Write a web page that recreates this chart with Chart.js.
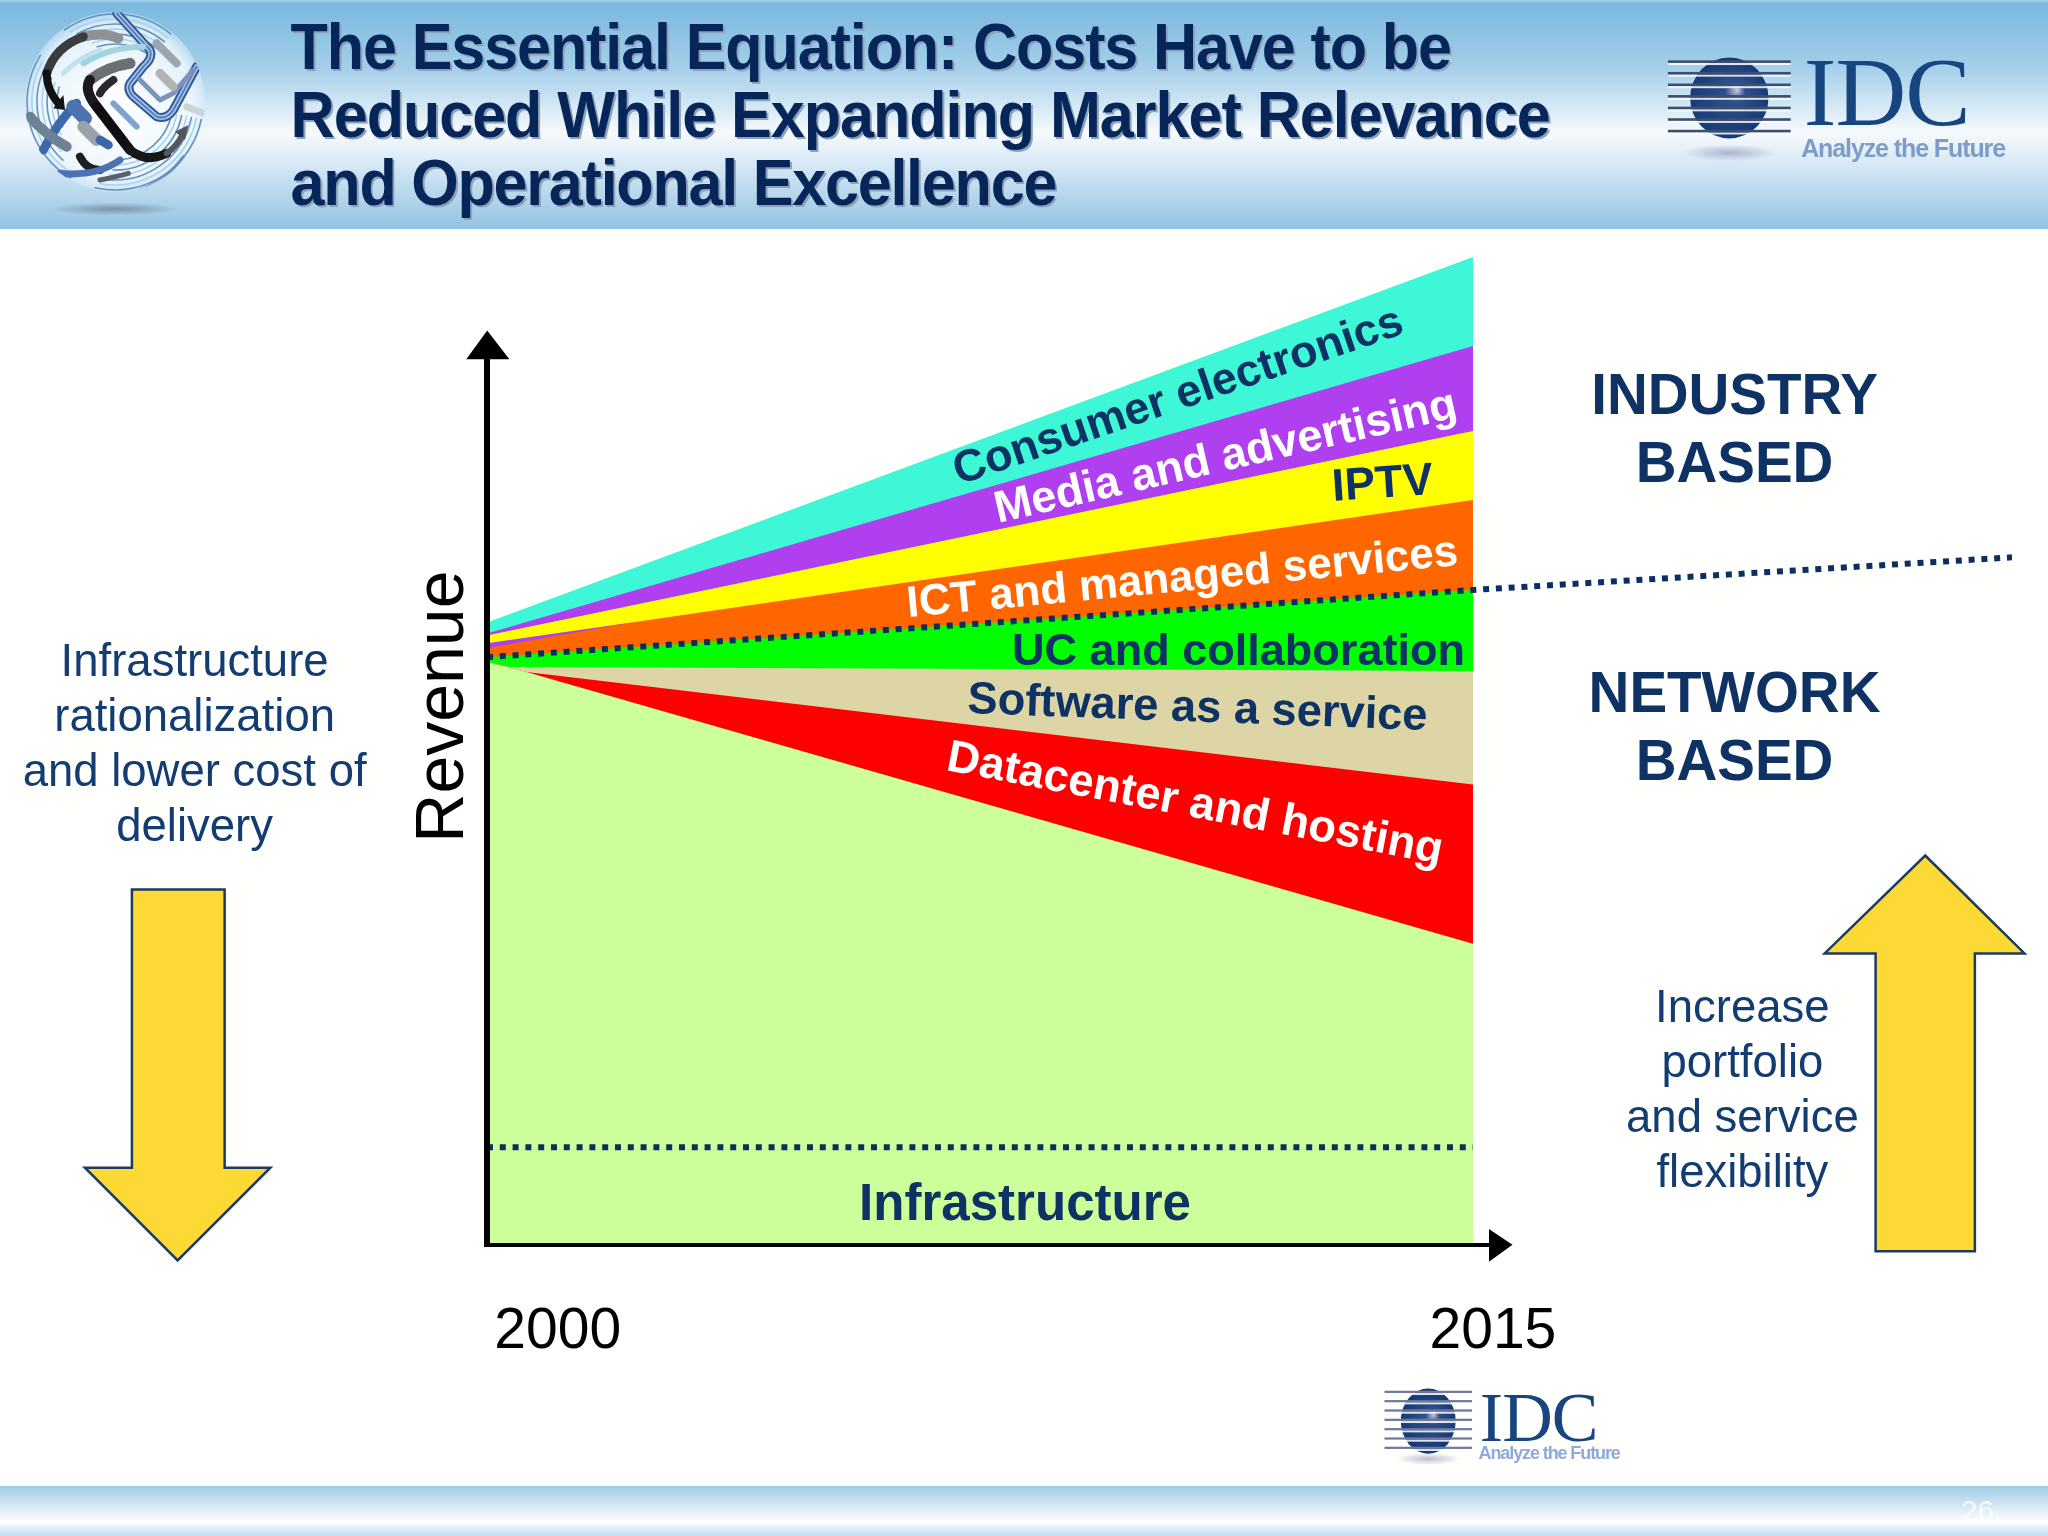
<!DOCTYPE html>
<html>
<head>
<meta charset="utf-8">
<style>html,body{margin:0;padding:0;background:#fffffd}canvas{display:block}</style>
<script src="https://cdn.jsdelivr.net/npm/chart.js@4/dist/chart.umd.min.js"></script>
</head>
<body>
<canvas id="c" width="2048" height="1536" style="width:2048px;height:1536px"></canvas>
<script>
// ---- data ----
const tickLabels = ['2000', '2015'];
const endYears = [2000, 2015];
const wedgeYears = [2000, 2000.6, 2015];
const tanYears = [2000, 2000.35, 2015];
const orangeYears = [2000, 2002.2, 2015];
const sliverYears = [2000, 2002.2];
const dividerYears = [2000, 2015, 2023.2];

const consumerElectronics = [63.0, 100];
const mediaAdvertising = [61.9, 91.0];
const iptv = [61.7, 82.4];
const sliver = [60.9, 63.0];
const ictManaged = [60.4, 63.0, 75.4];
const ucCollab = [59.5, 66.3];
const softwareService = [59.0, 58.5, 58.1];
const datacenterHosting = [59.0, 58.0, 46.6];
const infrastructure = [59.0, 58.0, 30.5];
const industryDivider = [59.5, 66.3, 69.6];
const infraDivider = [9.9, 9.9];

const pts = (xs, ys) => xs.map((x, i) => ({x, y: ys[i]}));
const D = 2048 / 1568;
const NAVY = '#0d3263';
const SANS = '"Liberation Sans", Arial, sans-serif';
const SERIF = '"Liberation Serif", "Times New Roman", serif';

function text(ctx, s, x, y, font, color, o) {
  o = o || {};
  ctx.save();
  ctx.translate(x * D, y * D);
  if (o.rot) ctx.rotate(o.rot * Math.PI / 180);
  if (o.sx) ctx.scale(o.sx, 1);
  ctx.font = font;
  ctx.fillStyle = color;
  ctx.textAlign = o.align || 'center';
  ctx.textBaseline = o.base || 'middle';
  if (o.ls) ctx.letterSpacing = o.ls;
  if (o.alpha) ctx.globalAlpha = o.alpha;
  ctx.fillText(s, 0, 0);
  ctx.restore();
}
// a label whose baseline runs from (x0,y0) to (x1,y1), in page pixels
function band(ctx, s, x0, y0, x1, y1, color) {
  const len = Math.hypot(x1 - x0, y1 - y0);
  ctx.save();
  ctx.font = 'bold 100px ' + SANS;
  const size = 100 * len / ctx.measureText(s).width;
  ctx.translate((x0 + x1) / 2, (y0 + y1) / 2);
  ctx.rotate(Math.atan2(y1 - y0, x1 - x0));
  ctx.font = 'bold ' + size.toFixed(2) + 'px ' + SANS;
  ctx.fillStyle = color;
  ctx.textAlign = 'center';
  ctx.textBaseline = 'alphabetic';
  ctx.fillText(s, 0, 0);
  ctx.restore();
}
function poly(ctx, p, fill, stroke, lw) {
  ctx.beginPath();
  p.forEach((q, i) => i ? ctx.lineTo(q[0] * D, q[1] * D) : ctx.moveTo(q[0] * D, q[1] * D));
  ctx.closePath();
  if (fill) { ctx.fillStyle = fill; ctx.fill(); }
  if (stroke) { ctx.strokeStyle = stroke; ctx.lineWidth = lw; ctx.stroke(); }
}
function idcLogo(ctx, x0, x1, cy, rx, ry, textX, textBase, idcSize, tagX, tagBase, tagSize, tagColor, lineColor, lineW, shadowY) {
  const cx = (x0 + x1) / 2;
  ctx.save();
  const sg = ctx.createRadialGradient(cx * D, 0, 0, cx * D, 0, rx * D * 1.2);
  ctx.translate(0, shadowY * D);
  ctx.scale(1, 0.18);
  sg.addColorStop(0, 'rgba(130,130,170,0.55)');
  sg.addColorStop(1, 'rgba(130,130,170,0)');
  ctx.fillStyle = sg;
  ctx.beginPath(); ctx.arc(cx * D, 0, rx * D * 1.2, 0, Math.PI * 2); ctx.fill();
  ctx.restore();
  ctx.save();
  ctx.beginPath(); ctx.ellipse(cx * D, cy * D, rx * D, ry * D, 0, 0, Math.PI * 2);
  const g = ctx.createRadialGradient((cx + rx * 0.2) * D, (cy - ry * 0.2) * D, 0, cx * D, cy * D, rx * D);
  g.addColorStop(0, '#c9c8df'); g.addColorStop(0.25, '#2f4f8c'); g.addColorStop(1, '#163a78');
  ctx.fillStyle = g; ctx.fill();
  ctx.restore();
  const n = 7;
  for (let i = 0; i < n; i++) {
    const y = (cy - ry + ry * 2 * (i + 0.25) / n);
    ctx.fillStyle = 'rgba(255,255,255,0.85)';
    ctx.fillRect(x0 * D, (y + lineW) * D, (x1 - x0) * D, 1.6 * D);
    ctx.fillStyle = lineColor;
    ctx.fillRect(x0 * D, y * D, (x1 - x0) * D, lineW * D);
  }
  text(ctx, 'IDC', textX, textBase, idcSize + 'px ' + SERIF, '#174580', {align: 'left', base: 'alphabetic', ls: '-1px'});
  text(ctx, 'Analyze the Future', tagX, tagBase, 'bold ' + tagSize + 'px ' + SANS, tagColor, {align: 'left', base: 'alphabetic', ls: '-1.1px'});
}
function route(ctx, p, color, w) {
  ctx.strokeStyle = color; ctx.lineWidth = w;
  ctx.beginPath();
  p.forEach((q, i) => {
    if (!i) ctx.moveTo(q[0] / 3, q[1] / 3);
    else if (q.length === 4) ctx.quadraticCurveTo(q[0] / 3, q[1] / 3, q[2] / 3, q[3] / 3);
    else ctx.lineTo(q[0] / 3, q[1] / 3);
  });
  ctx.stroke();
}
function globe(ctx) {
  ctx.save();
  const cx = 115, cy = 102, r = 90;
  ctx.beginPath(); ctx.arc(cx, cy, r, 0, Math.PI * 2);
  const g = ctx.createRadialGradient(cx, cy, 10, cx, cy, r);
  g.addColorStop(0, 'rgba(255,255,255,0.95)'); g.addColorStop(0.85, 'rgba(240,248,253,0.85)'); g.addColorStop(1, 'rgba(220,238,250,0.5)');
  ctx.fillStyle = g; ctx.fill(); ctx.clip();
  ctx.lineCap = 'round'; ctx.lineJoin = 'round';
  for (let i = 0; i < 7; i++) {
    ctx.strokeStyle = i % 2 ? '#a8d3e8' : '#5f93c4'; ctx.lineWidth = 1.6;
    ctx.beginPath(); ctx.arc(cx, cy, r - 2 - i * 5, 2.1 + i * 0.1, 3.7 - i * 0.05); ctx.stroke();
    ctx.beginPath(); ctx.arc(cx, cy, r - 2 - i * 5, 4.1 + i * 0.05, 5.4); ctx.stroke();
    ctx.beginPath(); ctx.arc(cx, cy, r - 2 - i * 5, 0.2, 1.8 - i * 0.05); ctx.stroke();
  }
  const blue = [[350, 40], [450, 150], [460, 175, 430, 200], [390, 250], [380, 270, 400, 290], [470, 350], [500, 360, 520, 330], [590, 200]];
  route(ctx, blue, '#31579a', 9); route(ctx, blue, '#a9c6e6', 5); route(ctx, blue, '#4f79b5', 1.8);
  route(ctx, [[420, 240], [480, 300], [520, 280], [580, 210]], '#7a94bd', 5);
  route(ctx, [[470, 130], [530, 190]], '#9aa7b2', 8);
  route(ctx, [[480, 220], [520, 260]], '#b0b4b4', 9);
  route(ctx, [[560, 320], [610, 340]], '#c8d6dc', 7);
  route(ctx, [[250, 190], [330, 140, 430, 140]], '#a4d3e0', 6);
  route(ctx, [[190, 220], [240, 170, 300, 150]], '#bfe2ec', 5);
  route(ctx, [[355, 115], [310, 95, 250, 110]], '#8d9296', 10);
  route(ctx, [[250, 110], [165, 140, 140, 220]], '#3b3b40', 9);
  route(ctx, [[140, 220], [140, 270, 175, 310]], '#121214', 8);
  poly(ctx, [[160 / 3 / D, 325 / 3 / D], [190 / 3 / D, 285 / 3 / D], [195 / 3 / D, 330 / 3 / D]], '#121214');
  route(ctx, [[390, 190], [320, 200, 270, 240]], '#6c7074', 11);
  route(ctx, [[270, 240], [250, 270, 290, 320]], '#1a1a1e', 10);
  route(ctx, [[290, 320], [390, 450]], '#0f0f12', 10);
  route(ctx, [[390, 450], [440, 490, 500, 460]], '#17171a', 9);
  route(ctx, [[500, 460], [530, 440, 550, 400]], '#53575c', 6);
  poly(ctx, [[525 / 3 / D, 395 / 3 / D], [565 / 3 / D, 375 / 3 / D], [555 / 3 / D, 420 / 3 / D]], '#53575c');
  route(ctx, [[340, 240], [310, 260, 300, 280]], '#2a2a2e', 8);
  route(ctx, [[230, 310], [170, 370, 130, 450]], '#3f68ab', 9);
  route(ctx, [[220, 320], [255, 355]], '#4d74b2', 14);
  route(ctx, [[250, 380], [290, 420]], '#9aa2aa', 12);
  route(ctx, [[90, 350], [130, 400, 200, 440]], '#6f8194', 10);
  route(ctx, [[300, 420], [325, 435]], '#3d66a8', 9);
  route(ctx, [[340, 310], [410, 380]], '#7fa3cf', 6);
  route(ctx, [[240, 470], [260, 510, 300, 510]], '#1d1d22', 8);
  route(ctx, [[180, 520], [290, 530, 360, 480]], '#4a72b4', 7);
  route(ctx, [[300, 540], [350, 530, 385, 520]], '#5d5f66', 5);
  route(ctx, [[420, 570], [500, 540, 550, 470]], '#6a90bd', 3);
  ctx.restore();
  ctx.save();
  ctx.translate(0, 209); ctx.scale(1, 0.1);
  const sg = ctx.createRadialGradient(115, 0, 0, 115, 0, 65);
  sg.addColorStop(0, 'rgba(90,105,125,0.6)'); sg.addColorStop(1, 'rgba(90,105,125,0)');
  ctx.fillStyle = sg; ctx.beginPath(); ctx.arc(115, 0, 65, 0, Math.PI * 2); ctx.fill();
  ctx.restore();
}

const backdrop = {
  id: 'backdrop',
  beforeDraw(chart) {
    const ctx = chart.ctx;
    ctx.save();
    ctx.fillStyle = '#fffffd';
    ctx.fillRect(0, 0, 2048, 1536);
    let g = ctx.createLinearGradient(0, 0, 0, 229);
    g.addColorStop(0, '#a9d6f2'); g.addColorStop(0.015, '#7ab8de'); g.addColorStop(0.3, '#a5cfea');
    g.addColorStop(0.58, '#f6fafd'); g.addColorStop(0.72, '#d6e8f5'); g.addColorStop(1, '#93c3e3');
    ctx.fillStyle = g; ctx.fillRect(0, 0, 2048, 229);
    g = ctx.createLinearGradient(0, 1486, 0, 1536);
    g.addColorStop(0, '#9fcbe6'); g.addColorStop(0.45, '#dbebf6'); g.addColorStop(0.72, '#ffffff'); g.addColorStop(1, '#bcdcf3');
    ctx.fillStyle = g; ctx.fillRect(0, 1486, 2048, 50);
    ctx.restore();
  }
};

const overlay = {
  id: 'overlay',
  afterDatasetsDraw(chart) {
    const ctx = chart.ctx;
    const xs = chart.scales.x, ys = chart.scales.y;
    const ax = xs.getPixelForValue(2000), ay = ys.getPixelForValue(0);
    globe(ctx);
    [['The Essential Equation: Costs Have to be', '-1.2px'],
     ['Reduced While Expanding Market Relevance', '-1.1px'],
     ['and Operational Excellence', '-1.33px']].forEach((l, i) => {
      const y = 53 + i * 52;
      text(ctx, l[0], 224, y + 1.2, 'bold 65px ' + SANS, '#8ea3ba', {align: 'left', base: 'alphabetic', sx: 0.94, ls: l[1]});
      text(ctx, l[0], 222.5, y, 'bold 65px ' + SANS, '#06265a', {align: 'left', base: 'alphabetic', sx: 0.94, ls: l[1]});
    });
    idcLogo(ctx, 1277, 1371, 75, 30, 31, 1381, 96, 98, 1379, 120, 25, '#7d9cc7', '#3d4f6e', 2, 117);
    idcLogo(ctx, 1060, 1127, 1088, 21, 25, 1133, 1103, 70, 1132, 1117, 18, '#8fa9dc', '#6d7a98', 1.7, 1117);
    // axes
    ctx.save();
    ctx.fillStyle = '#000';
    ctx.fillRect(ax - 3, 345, 6, ay - 345 + 2);
    ctx.fillRect(ax - 2, ay - 2, 1498 - ax, 4);
    ctx.restore();
    poly(ctx, [[373, 253], [390, 275], [357, 275]], '#000');
    poly(ctx, [[1158, 953], [1140, 941], [1140, 966]], '#000');
    text(ctx, tickLabels[0], 427, 1020, '57px ' + SANS, '#000');
    text(ctx, tickLabels[1], 1143, 1020, '57px ' + SANS, '#000');
    text(ctx, 'Revenue', 340, 541, '68px ' + SANS, '#000', {rot: -90});
    // band labels
    band(ctx, 'Consumer electronics', 959, 485, 1406, 333, NAVY);
    band(ctx, 'Media and advertising', 998, 523, 1459, 417, '#ffffff');
    band(ctx, 'IPTV', 1333, 501, 1434, 494, NAVY);
    band(ctx, 'ICT and managed services', 908, 617, 1459, 565, '#ffffff');
    band(ctx, 'UC and collaboration', 1012, 665, 1465, 665, NAVY);
    band(ctx, 'Software as a service', 967, 713, 1427, 730, NAVY);
    band(ctx, 'Datacenter and hosting', 945, 770, 1440, 864, '#ffffff');
    band(ctx, 'Infrastructure', 859, 1220, 1191, 1220, NAVY);
    // side headings
    const h = 'bold 56.5px ' + SANS;
    text(ctx, 'INDUSTRY', 1328, 305, h, NAVY);
    text(ctx, 'BASED', 1328, 357, h, NAVY);
    text(ctx, 'NETWORK', 1328, 533, h, NAVY);
    text(ctx, 'BASED', 1328, 585, h, NAVY);
    const t = '45.5px ' + SANS, tc = '#123c72';
    ['Infrastructure', 'rationalization', 'and lower cost of', 'delivery'].forEach((l, i) => text(ctx, l, 149, 508 + i * 42, t, tc));
    ['Increase', 'portfolio', 'and service', 'flexibility'].forEach((l, i) => text(ctx, l, 1334, 773 + i * 42, t, tc));
    // block arrows
    const Y = '#fdd935', E = '#1c3a63';
    poly(ctx, [[101, 681], [172, 681], [172, 894], [207, 894], [136, 965], [65, 894], [101, 894]], Y, E, 2.5);
    poly(ctx, [[1474, 655], [1550, 730], [1512, 730], [1512, 958], [1436, 958], [1436, 730], [1397, 730]], Y, E, 2.5);
    text(ctx, '26', 1514, 1158, '30px ' + SANS, '#ffffff', {alpha: 0.8});
  }
};

const area = (label, data, color) => ({label, data, backgroundColor: color, borderWidth: 0, pointRadius: 0, tension: 0, fill: 'start'});
const dotted = (label, data) => ({label, data, borderColor: '#0c2f63', borderWidth: 6, borderDash: [6, 6.8], pointRadius: 0, tension: 0, fill: false, borderCapStyle: 'butt'});

new Chart(document.getElementById('c'), {
  type: 'line',
  data: {
    datasets: [
      dotted('Industry / network divide', pts(dividerYears, industryDivider)),
      dotted('Infrastructure divide', pts(endYears, infraDivider)),
      area('Infrastructure', pts(wedgeYears, infrastructure), '#ccff99'),
      area('Datacenter and hosting', pts(wedgeYears, datacenterHosting), '#ff0000'),
      area('Software as a service', pts(tanYears, softwareService), '#ddd5a6'),
      area('UC and collaboration', pts(endYears, ucCollab), '#00ff00'),
      area('ICT and managed services', pts(orangeYears, ictManaged), '#ff6600'),
      area('Media sliver', pts(sliverYears, sliver), '#b03ff0'),
      area('IPTV', pts(endYears, iptv), '#ffff00'),
      area('Media and advertising', pts(endYears, mediaAdvertising), '#b03ff0'),
      area('Consumer electronics', pts(endYears, consumerElectronics), '#3ef7d6')
    ]
  },
  options: {
    responsive: false,
    animation: false,
    devicePixelRatio: 1,
    layout: {padding: {left: 487, right: 36, top: 257, bottom: 291}},
    plugins: {legend: {display: false}, tooltip: {enabled: false}},
    scales: {
      x: {type: 'linear', min: 2000, max: 2023.2, display: false},
      y: {type: 'linear', min: 0, max: 100, display: false}
    }
  },
  plugins: [backdrop, overlay]
});
</script>
</body>
</html>
